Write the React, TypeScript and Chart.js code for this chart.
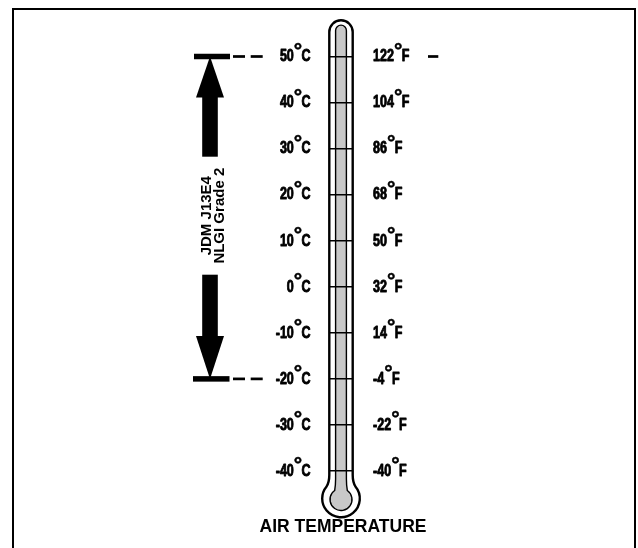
import { useEffect, useRef } from 'react';
import { Chart, registerables } from 'chart.js';

Chart.register(...registerables);

// ---- data ----
const celsiusTicks = [50, 40, 30, 20, 10, 0, -10, -20, -30, -40];
const celsiusLabels = ['50', '40', '30', '20', '10', '0', '-10', '-20', '-30', '-40'];
const fahrenheitLabels = ['122', '104', '86', '68', '50', '32', '14', '-4', '-22', '-40'];
const greaseRange = [-20, 50]; // °C, low / high
const greaseLabel = ['JDM J13E4', 'NLGI Grade 2'];
const axisTitle = 'AIR TEMPERATURE';

const FONT = '"Liberation Sans", Arial, Helvetica, sans-serif';
const SX = 0.76; // horizontal condensing of tick labels

function drawDegLabel(
  ctx: CanvasRenderingContext2D,
  num: string,
  unit: string,
  x: number,
  base: number,
  align: 'left' | 'right'
) {
  ctx.font = `bold 16.5px ${FONT}`;
  const wn = ctx.measureText(num).width * SX;
  const wu = ctx.measureText(unit).width * SX;
  let numRight: number, ringC: number, unitLeft: number;
  if (align === 'right') {
    unitLeft = x - wu;
    ringC = unitLeft - 3.6;
    numRight = ringC - 4.0;
  } else {
    numRight = x + wn;
    ringC = numRight + 4.2;
    unitLeft = ringC + 3.6;
  }
  ctx.fillStyle = '#000';
  ctx.strokeStyle = '#000';
  ctx.lineJoin = 'round';
  ctx.textBaseline = 'alphabetic';
  ctx.save();
  ctx.translate(numRight, base);
  ctx.scale(SX, 1);
  ctx.textAlign = 'right';
  ctx.lineWidth = 0.9;
  ctx.fillText(num, 0, 0);
  ctx.strokeText(num, 0, 0);
  ctx.restore();
  ctx.save();
  ctx.translate(unitLeft, base);
  ctx.scale(SX, 1);
  ctx.textAlign = 'left';
  ctx.lineWidth = 0.9;
  ctx.fillText(unit, 0, 0);
  ctx.strokeText(unit, 0, 0);
  ctx.restore();
  ctx.font = `bold 21px ${FONT}`;
  ctx.textAlign = 'center';
  ctx.lineWidth = 0.5;
  ctx.fillText('°', ringC, base - 4.8);
  ctx.strokeText('°', ringC, base - 4.8);
}

const thermoPlugin = {
  id: 'thermo',
  beforeDraw(chart: any) {
    const { ctx, chartArea } = chart;
    const { left, right, top, bottom } = chartArea;
    ctx.save();
    // frame
    ctx.strokeStyle = '#000';
    ctx.lineWidth = 2;
    ctx.strokeRect(13, 9, 622, 600);

    const cx = (left + right) / 2;
    const ho = 11.7;
    const capY = top - 24.5;
    const by = bottom + 27.5;
    const br = 18.8;
    const d = Math.PI / 180;
    // outer tube
    ctx.beginPath();
    ctx.moveTo(cx - ho, bottom + 4);
    ctx.lineTo(cx - ho, capY);
    ctx.arc(cx, capY, ho, Math.PI, 0, false);
    ctx.lineTo(cx + ho, bottom + 4);
    ctx.quadraticCurveTo(cx + ho, bottom + 11, cx + br * Math.cos(-40 * d), by + br * Math.sin(-40 * d));
    ctx.arc(cx, by, br, -40 * d, 220 * d, false);
    ctx.quadraticCurveTo(cx - ho, bottom + 11, cx - ho, bottom + 4);
    ctx.closePath();
    ctx.fillStyle = '#fff';
    ctx.fill();
    ctx.lineWidth = 2.4;
    ctx.stroke();

    // inner column
    const hi = 5.4;
    const capYi = top - 26;
    const byi = bottom + 28.5;
    const ri = 11;
    ctx.beginPath();
    ctx.moveTo(cx - hi, bottom + 8);
    ctx.lineTo(cx - hi, capYi);
    ctx.arc(cx, capYi, hi, Math.PI, 0, false);
    ctx.lineTo(cx + hi, bottom + 8);
    ctx.quadraticCurveTo(cx + hi, bottom + 14, cx + ri * Math.cos(-55 * d), byi + ri * Math.sin(-55 * d));
    ctx.arc(cx, byi, ri, -55 * d, 235 * d, false);
    ctx.quadraticCurveTo(cx - hi, bottom + 14, cx - hi, bottom + 8);
    ctx.closePath();
    ctx.fillStyle = '#c8c8c8';
    ctx.fill();
    ctx.lineWidth = 1.4;
    ctx.stroke();
    ctx.restore();
  },
  afterDraw(chart: any) {
    const { ctx } = chart;
    const y = chart.scales.y;
    ctx.save();
    ctx.fillStyle = '#000';

    // tick labels
    celsiusTicks.forEach((v, i) => {
      const py = y.getPixelForValue(v);
      drawDegLabel(ctx, celsiusLabels[i], 'C', 310.5, py + 4.8, 'right');
      drawDegLabel(ctx, fahrenheitLabels[i], 'F', 373, py + 4.8, 'left');
    });

    // grease range arrow
    const yTop = y.getPixelForValue(greaseRange[1]);
    const yBot = y.getPixelForValue(greaseRange[0]);
    const ax = 210;
    ctx.fillRect(194, yTop - 2.75, 36, 5.5);
    ctx.fillRect(193, yBot - 2.75, 36.5, 5.5);
    [yTop, yBot].forEach((yy) => {
      ctx.fillRect(233, yy - 1.35, 12, 2.7);
      ctx.fillRect(250.7, yy - 1.35, 12, 2.7);
    });
    ctx.fillRect(428, yTop - 1.35, 10.3, 2.7);

    const mid = (yTop + yBot) / 2 - 2;
    const head = 41;
    // up arrow
    ctx.beginPath();
    ctx.moveTo(ax, yTop);
    ctx.lineTo(ax + 14, yTop + head);
    ctx.lineTo(ax - 14, yTop + head);
    ctx.closePath();
    ctx.fill();
    ctx.fillRect(ax - 7.8, yTop + head - 1, 15.6, mid - 59 - (yTop + head - 1));
    // down arrow
    ctx.beginPath();
    ctx.moveTo(ax, yBot);
    ctx.lineTo(ax + 14, yBot - head - 2);
    ctx.lineTo(ax - 14, yBot - head - 2);
    ctx.closePath();
    ctx.fill();
    ctx.fillRect(ax - 7.8, mid + 59, 15.6, yBot - head - 1 - (mid + 59));

    // rotated label
    ctx.save();
    ctx.translate(ax + 3, mid);
    ctx.rotate(-Math.PI / 2);
    ctx.font = `bold 15px ${FONT}`;
    ctx.textAlign = 'center';
    ctx.textBaseline = 'middle';
    ctx.fillText(greaseLabel[0], 0, -6.5);
    ctx.fillText(greaseLabel[1], 0, 6.5);
    ctx.restore();

    // title
    ctx.font = `bold 17.5px ${FONT}`;
    ctx.textAlign = 'center';
    ctx.textBaseline = 'alphabetic';
    ctx.fillText(axisTitle, 343, 532);
    ctx.restore();
  },
};

export default function App() {
  const ref = useRef<HTMLCanvasElement>(null);
  useEffect(() => {
    const chart = new Chart(ref.current!, {
      type: 'line',
      data: { labels: [''], datasets: [] },
      options: {
        animation: false,
        responsive: false,
        devicePixelRatio: 1,
        layout: { padding: { left: 329, right: 285, top: 56.5, bottom: 77 } },
        plugins: { legend: { display: false }, tooltip: { enabled: false } },
        scales: {
          x: { display: false },
          y: {
            min: -40,
            max: 50,
            afterBuildTicks: (scale: any) => {
              scale.ticks = celsiusTicks.map((v) => ({ value: v }));
            },
            ticks: { display: false },
            grid: { color: '#000', lineWidth: 1.5, drawTicks: false },
            border: { display: false },
          },
        },
      },
      plugins: [thermoPlugin],
    } as any);
    return () => chart.destroy();
  }, []);
  return (
    <canvas
      ref={ref}
      width={638}
      height={548}
      style={{ position: 'absolute', left: 0, top: 0, width: 638, height: 548, display: 'block' }}
    />
  );
}
